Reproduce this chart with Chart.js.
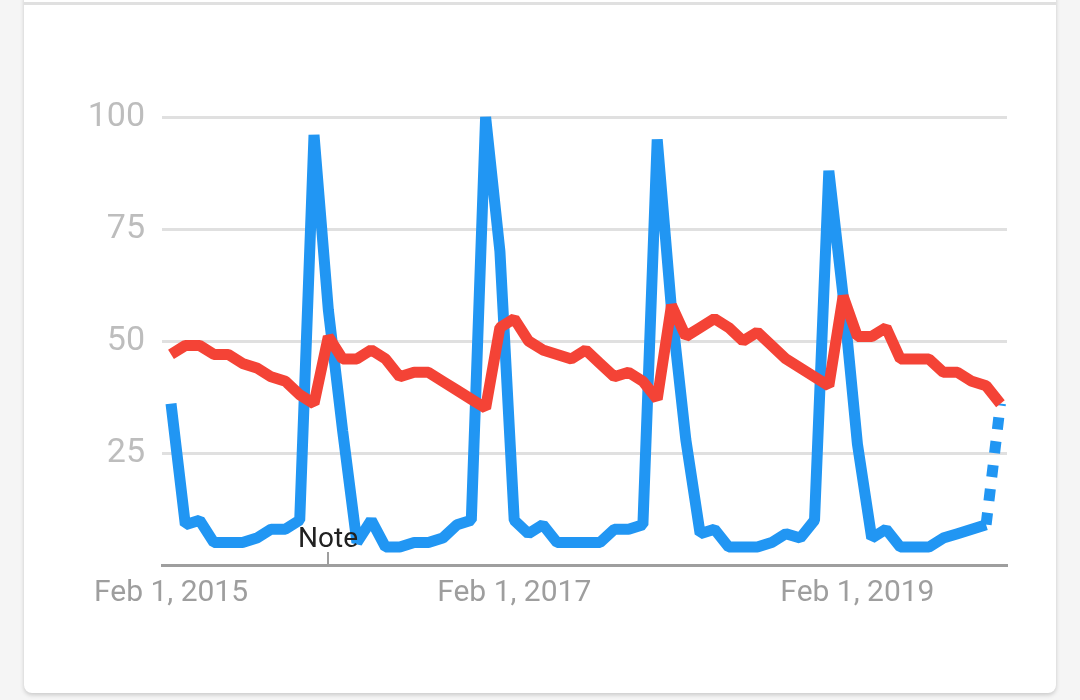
<!DOCTYPE html>
<html>
<head>
<meta charset="utf-8">
<script src="https://cdn.jsdelivr.net/npm/chart.js@4.4.1/dist/chart.umd.min.js"></script>
<style>
  html, body { margin: 0; padding: 0; width: 1080px; height: 700px; overflow: hidden; background: #f5f5f5; }
  .card { position: absolute; left: 24px; top: -10px; width: 1032px; height: 703px; background: #fff;
          border-radius: 8px; box-shadow: 0 2px 4px rgba(0, 0, 0, 0.18); }
  .topline { position: absolute; left: 24px; top: 2px; width: 1032px; height: 3px; background: #e0e0e0; }
  #chart { position: absolute; left: 0; top: 0; }
</style>
</head>
<body>
<div class="card"></div>
<div class="topline"></div>
<canvas id="chart" width="1080" height="700"></canvas>
<script>
// Monthly points, Feb 2015 .. Dec 2019 (last month is partial data)
const months = [
    'Feb 2015', 'Mar 2015', 'Apr 2015', 'May 2015', 'Jun 2015', 'Jul 2015', 'Aug 2015', 'Sep 2015', 'Oct 2015', 'Nov 2015', 'Dec 2015',
    'Jan 2016', 'Feb 2016', 'Mar 2016', 'Apr 2016', 'May 2016', 'Jun 2016', 'Jul 2016', 'Aug 2016', 'Sep 2016', 'Oct 2016', 'Nov 2016', 'Dec 2016',
    'Jan 2017', 'Feb 2017', 'Mar 2017', 'Apr 2017', 'May 2017', 'Jun 2017', 'Jul 2017', 'Aug 2017', 'Sep 2017', 'Oct 2017', 'Nov 2017', 'Dec 2017',
    'Jan 2018', 'Feb 2018', 'Mar 2018', 'Apr 2018', 'May 2018', 'Jun 2018', 'Jul 2018', 'Aug 2018', 'Sep 2018', 'Oct 2018', 'Nov 2018', 'Dec 2018',
    'Jan 2019', 'Feb 2019', 'Mar 2019', 'Apr 2019', 'May 2019', 'Jun 2019', 'Jul 2019', 'Aug 2019', 'Sep 2019', 'Oct 2019', 'Nov 2019', 'Dec 2019'
];

const blueValues = [
    36, 9, 10, 5, 5, 5, 6, 8, 8, 10, 96,
    57, 30, 5, 10, 4, 4, 5, 5, 6, 9, 10, 100,
    70, 10, 7, 9, 5, 5, 5, 5, 8, 8, 9, 95,
    57, 28, 7, 8, 4, 4, 4, 5, 7, 6, 10, 88,
    60, 27, 6, 8, 4, 4, 4, 6, 7, 8, 9, 36
];

const redValues = [
    47, 49, 49, 47, 47, 45, 44, 42, 41, 38, 36,
    51, 46, 46, 48, 46, 42, 43, 43, 41, 39, 37, 35,
    53, 55, 50, 48, 47, 46, 48, 45, 42, 43, 41, 37,
    58, 51, 53, 55, 53, 50, 52, 49, 46, 44, 42, 40,
    60, 51, 51, 53, 46, 46, 46, 43, 43, 41, 40, 36
];

const yTicks = [0, 25, 50, 75, 100];
const xTickIndex = [0, 24, 48];
const xTickLabels = ['Feb 1, 2015', 'Feb 1, 2017', 'Feb 1, 2019'];
const noteIndex = 11;
const noteText = 'Note';

const BLUE = '#2196f3';
const RED = '#f44336';
const LINE_WIDTH = 11;

const toPoints = values => values.map((v, i) => ({ x: i, y: v }));

// Draws the little annotation tick and its label on top of the lines
const notePlugin = {
    id: 'note',
    afterDatasetsDraw(chart) {
        const { ctx, chartArea, scales } = chart;
        const px = Math.round(scales.x.getPixelForValue(noteIndex));
        ctx.save();
        ctx.strokeStyle = '#9e9e9e';
        ctx.lineWidth = 2;
        ctx.beginPath();
        ctx.moveTo(px, chartArea.bottom - 13);
        ctx.lineTo(px, chartArea.bottom);
        ctx.stroke();
        ctx.font = '28px Roboto';
        ctx.fillStyle = '#212121';
        ctx.textAlign = 'center';
        ctx.textBaseline = 'alphabetic';
        ctx.fillText(noteText, px, chartArea.bottom - 18);
        ctx.restore();
    }
};

new Chart(document.getElementById('chart'), {
    type: 'line',
    data: {
        labels: months,
        datasets: [
            {
                label: 'red',
                data: toPoints(redValues),
                borderColor: RED,
                borderWidth: LINE_WIDTH,
                borderJoinStyle: 'bevel',
                pointRadius: 0,
                tension: 0,
                clip: false
            },
            {
                label: 'blue',
                data: toPoints(blueValues),
                borderColor: BLUE,
                borderWidth: LINE_WIDTH,
                borderJoinStyle: 'bevel',
                pointRadius: 0,
                tension: 0,
                clip: false,
                segment: {
                    borderDash: ctx => ctx.p1DataIndex === blueValues.length - 1 ? [12, 12] : undefined
                }
            }
        ]
    },
    options: {
        responsive: false,
        animation: false,
        devicePixelRatio: 1,
        elements: { line: { borderWidth: LINE_WIDTH } },
        layout: { padding: { top: 117, right: 73, bottom: 0, left: 0 } },
        plugins: { legend: { display: false }, tooltip: { enabled: false } },
        scales: {
            x: {
                type: 'linear',
                min: -0.63,
                max: 58.46,
                afterFit: scale => { scale.height = 135; },
                afterBuildTicks: scale => { scale.ticks = xTickIndex.map(v => ({ value: v })); },
                grid: { display: false },
                border: { display: true, color: '#9e9e9e', width: 3 },
                ticks: {
                    autoSkip: false,
                    maxRotation: 0,
                    padding: 2,
                    color: '#9e9e9e',
                    font: { family: 'Roboto', size: 30 },
                    callback: v => xTickLabels[xTickIndex.indexOf(v)]
                }
            },
            y: {
                min: 0,
                max: 100,
                afterFit: scale => { scale.width = 162; },
                afterBuildTicks: scale => { scale.ticks = yTicks.map(v => ({ value: v })); },
                border: { display: false },
                grid: {
                    drawTicks: false,
                    lineWidth: 3,
                    color: c => c.tick && c.tick.value === 0 ? 'rgba(0,0,0,0)' : '#e0e0e0'
                },
                ticks: {
                    padding: 17,
                    color: '#bdbdbd',
                    font: { family: 'Roboto', size: 34 },
                    callback: v => v === 0 ? '' : v
                }
            }
        }
    },
    plugins: [notePlugin]
});
</script>
</body>
</html>
